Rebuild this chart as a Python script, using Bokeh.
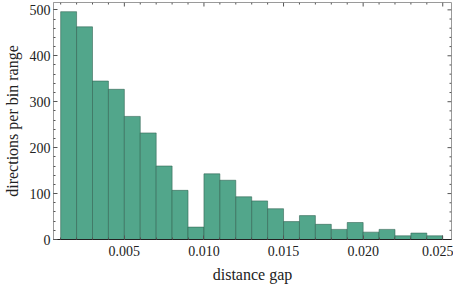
import numpy as np
from bokeh.plotting import figure
from bokeh.models import Range1d, SingleIntervalTicker, NumeralTickFormatter
from bokeh.embed import file_html
from bokeh.resources import INLINE

bin_left = [0.001, 0.002, 0.003, 0.004, 0.005, 0.006, 0.007, 0.008, 0.009, 0.010, 0.011, 0.012,
            0.013, 0.014, 0.015, 0.016, 0.017, 0.018, 0.019, 0.020, 0.021, 0.022, 0.023, 0.024]
bin_width = 0.001
counts = [496, 463, 345, 327, 268, 232, 160, 107, 27, 143, 129, 93,
          84, 67, 39, 52, 33, 22, 37, 16, 22, 8, 14, 8]
bin_right = [b + bin_width for b in bin_left]

X_MIN, X_MAX = 0.00055, 0.02555
Y_MIN, Y_MAX = 0, 516
X_MAJOR, X_MINOR_N = 0.005, 5
Y_MAJOR, Y_MINOR_N = 100, 5

FONT = "Liberation Serif"
FILL = "#52A68B"
EDGE = "#2E5E4E"
FRAME = "#9a9a9a"
TICK = "#555555"

p = figure(width=453, height=285, output_backend="svg", toolbar_location=None,
           x_range=Range1d(X_MIN, X_MAX), y_range=Range1d(Y_MIN, Y_MAX),
           min_border_left=4, min_border_right=2, min_border_top=2, min_border_bottom=2,
           x_axis_label="distance gap", y_axis_label="directions per bin range")
p.background_fill_color = "white"
p.border_fill_color = "white"
p.grid.visible = False
p.outline_line_color = FRAME

p.quad(left=bin_left, right=bin_right, bottom=0, top=counts,
       fill_color=FILL, line_color=EDGE, line_alpha=0.55, line_width=1)

def style(ax, line_color):
    ax.axis_line_color = line_color
    ax.major_tick_in = 4
    ax.major_tick_out = 0
    ax.minor_tick_in = 2
    ax.minor_tick_out = 0
    ax.major_tick_line_color = TICK
    ax.minor_tick_line_color = TICK
    ax.major_label_text_font = FONT
    ax.major_label_text_font_size = "14px"
    ax.major_label_text_color = "#222222"
    ax.axis_label_text_font = FONT
    ax.axis_label_text_font_size = "16px"
    ax.axis_label_text_font_style = "normal"
    ax.axis_label_text_color = "#222222"

xa = p.xaxis[0]
xa.ticker = SingleIntervalTicker(interval=X_MAJOR, num_minor_ticks=X_MINOR_N)
xa.formatter = NumeralTickFormatter(format="0.000")
style(xa, "#222222")
xa.major_label_standoff = 6
xa.axis_label_standoff = 7

ya = p.yaxis[0]
ya.ticker = SingleIntervalTicker(interval=Y_MAJOR, num_minor_ticks=Y_MINOR_N)
style(ya, FRAME)
ya.major_label_standoff = 3
ya.axis_label_standoff = 6

# mirrored ticks on the top and right frame edges (no labels)
x_step = X_MAJOR / X_MINOR_N
x_all = np.arange(np.ceil(X_MIN / x_step) * x_step, X_MAX + 1e-12, x_step)
x_is_major = np.isclose(np.round(x_all / X_MAJOR) * X_MAJOR, x_all, atol=1e-9)
y_step = Y_MAJOR / Y_MINOR_N
y_all = np.arange(0, Y_MAX + 1e-9, y_step)
y_is_major = np.isclose(np.round(y_all / Y_MAJOR) * Y_MAJOR, y_all)

p.ray(x=x_all, y=Y_MAX, length=np.where(x_is_major, 4, 2), angle=-np.pi / 2,
      length_units="screen", line_color=TICK, line_width=1)
p.ray(x=X_MAX, y=y_all, length=np.where(y_is_major, 4, 2), angle=np.pi,
      length_units="screen", line_color=TICK, line_width=1)

open("out.html", "w").write(file_html(p, INLINE))
